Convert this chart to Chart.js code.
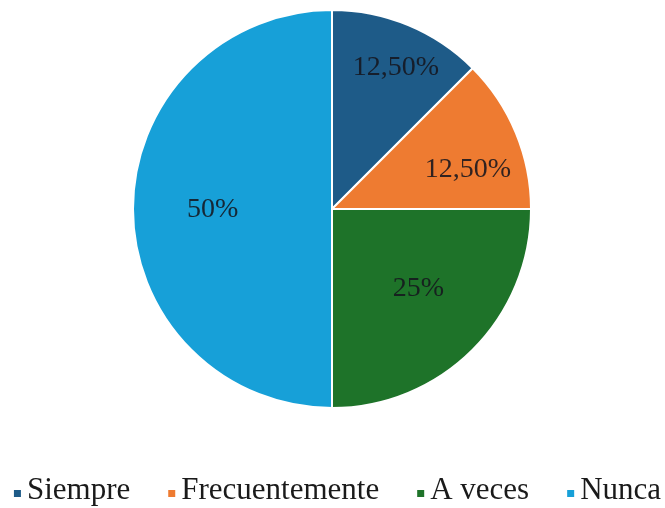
<!DOCTYPE html>
<html>
<head>
<meta charset="utf-8">
<script src="https://cdn.jsdelivr.net/npm/chart.js@4/dist/chart.umd.min.js"></script>
<style>
  html, body { margin: 0; padding: 0; background: #ffffff; }
  #wrap { width: 665px; height: 508px; position: relative; }
</style>
</head>
<body>
<div id="wrap"><canvas id="chart" width="665" height="508"></canvas></div>
<script>
// Survey answers and their share of responses (%)
const categories = ['Siempre', 'Frecuentemente', 'A veces', 'Nunca'];
const shares = [12.5, 12.5, 25, 50];
const sliceColors = ['#1e5b88', '#ee7b31', '#1e7329', '#17a0d8'];

// Where each percentage sits inside its slice: fraction of the radius,
// and a small angular nudge (degrees) from the slice's middle.
const labelRadius = [0.78, 0.71, 0.59, 0.60];
const labelShift = [1.8, 6.5, -2.4, -0.5];

const SERIF = '"Liberation Serif", "Times New Roman", serif';

function formatShare(v) {
  return Number.isInteger(v) ? v + '%' : v.toFixed(2).replace('.', ',') + '%';
}

// Percentage text on every slice
const sliceLabels = {
  id: 'sliceLabels',
  afterDatasetsDraw(chart) {
    const ctx = chart.ctx;
    const meta = chart.getDatasetMeta(0);
    ctx.save();
    ctx.font = '28px ' + SERIF;
    ctx.fillStyle = 'rgba(22, 22, 30, 0.88)';
    ctx.textAlign = 'center';
    ctx.textBaseline = 'middle';
    meta.data.forEach((arc, i) => {
      const p = arc.getProps(['x', 'y', 'startAngle', 'endAngle', 'outerRadius'], true);
      const a = (p.startAngle + p.endAngle) / 2 + labelShift[i] * Math.PI / 180;
      const r = p.outerRadius * labelRadius[i];
      ctx.fillText(formatShare(shares[i]), p.x + Math.cos(a) * r, p.y + Math.sin(a) * r);
    });
    ctx.restore();
  }
};

// Single-row legend along the bottom edge: small square, then the name
const bottomLegend = {
  id: 'bottomLegend',
  afterDraw(chart) {
    const ctx = chart.ctx;
    const box = 7, boxGap = 6, itemGap = 38, baseline = 499;
    ctx.save();
    ctx.font = '31px ' + SERIF;
    ctx.textBaseline = 'alphabetic';
    ctx.textAlign = 'left';
    const widths = categories.map(c => ctx.measureText(c).width);
    const total = widths.reduce((s, w) => s + box + boxGap + w, 0) + itemGap * (categories.length - 1);
    let x = (chart.width - total) / 2 + 5;
    categories.forEach((c, i) => {
      ctx.fillStyle = sliceColors[i];
      ctx.fillRect(x, baseline - 9, box, box);
      ctx.fillStyle = '#1a1a1a';
      ctx.fillText(c, x + box + boxGap, baseline);
      x += box + boxGap + widths[i] + itemGap;
    });
    ctx.restore();
  }
};

new Chart(document.getElementById('chart'), {
  type: 'pie',
  data: {
    labels: categories,
    datasets: [{
      data: shares,
      backgroundColor: sliceColors,
      borderColor: '#ffffff',
      borderWidth: 2
    }]
  },
  options: {
    responsive: false,
    animation: false,
    layout: { padding: { top: 9, bottom: 99, left: 0, right: 1 } },
    plugins: {
      legend: { display: false },
      tooltip: { enabled: false }
    }
  },
  plugins: [sliceLabels, bottomLegend]
});
</script>
</body>
</html>
